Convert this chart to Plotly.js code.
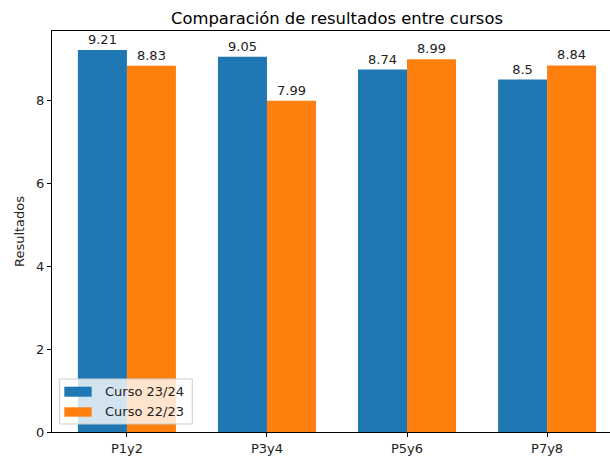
<!DOCTYPE html>
<html>
<head>
<meta charset="utf-8">
<script src="https://cdn.plot.ly/plotly-3.0.1.min.js"></script>
<style>
html,body{margin:0;padding:0;overflow:hidden;background:#fff;}
#chart{width:624px;height:459px;}
</style>
</head>
<body>
<div id="chart"></div>
<script>
const categories = ["P1y2", "P3y4", "P5y6", "P7y8"];
const curso2324 = [9.21, 9.05, 8.74, 8.5];
const curso2223 = [8.83, 7.99, 8.99, 8.84];
const seriesNames = ["Curso 23/24", "Curso 22/23"];
const seriesColors = ["#1f77b4", "#ff7f0e"];
const yTicks = [0, 2, 4, 6, 8];

const font = "DejaVu Sans, sans-serif";
const makeTrace = (vals, i) => ({
  type: "bar", x: categories, y: vals, name: seriesNames[i],
  marker: {color: seriesColors[i]}, text: vals.map(String),
  textposition: "outside", cliponaxis: false, constraintext: "none",
  textfont: {family: font, size: 13, color: "#222"}, hoverinfo: "none", showlegend: false
});
const traces = [makeTrace(curso2324, 0), makeTrace(curso2223, 1)];

// custom matplotlib-style legend (paper coordinates)
const legendShapes = [
  {type: "rect", xref: "paper", yref: "paper", x0: 0.0135, x1: 0.2461, y0: 0.0200, y1: 0.1322,
   fillcolor: "rgba(255,255,255,0.8)", line: {color: "#cccccc", width: 1}, layer: "above"},
  {type: "rect", xref: "paper", yref: "paper", x0: 0.0216, x1: 0.0696, y0: 0.088, y1: 0.113,
   fillcolor: seriesColors[0], line: {width: 0}, layer: "above"},
  {type: "rect", xref: "paper", yref: "paper", x0: 0.0216, x1: 0.0696, y0: 0.0382, y1: 0.0616,
   fillcolor: seriesColors[1], line: {width: 0}, layer: "above"}
];
const legendTexts = [
  {xref: "paper", yref: "paper", x: 0.0895, y: 0.1005, xanchor: "left", yanchor: "middle",
   text: seriesNames[0], showarrow: false, font: {family: font, size: 13, color: "#222"}},
  {xref: "paper", yref: "paper", x: 0.0895, y: 0.0499, xanchor: "left", yanchor: "middle",
   text: seriesNames[1], showarrow: false, font: {family: font, size: 13, color: "#222"}}
];

const layout = {
  width: 624, height: 459,
  margin: {l: 52, r: 2, t: 31, b: 27},
  paper_bgcolor: "#fff", plot_bgcolor: "#fff",
  font: {family: font, size: 13, color: "#222"},
  title: {text: "Comparación de resultados entre cursos", font: {family: font, size: 16.4, color: "#000"},
          x: 0.5, xref: "paper", xanchor: "center", y: 1, yref: "paper", yanchor: "bottom", pad: {b: 7}},
  barmode: "group", bargap: 0.3, bargroupgap: 0,
  showlegend: false,
  shapes: legendShapes,
  annotations: legendTexts,
  xaxis: {type: "category", range: [-0.535, 3.535], showgrid: false, zeroline: false,
          showline: true, linecolor: "#000", linewidth: 1, mirror: true,
          ticks: "outside", ticklen: 4, tickcolor: "#000", tickfont: {family: font, size: 13, color: "#222"}},
  yaxis: {range: [0, 9.67], tickvals: yTicks, ticktext: yTicks.map(String), showgrid: false, zeroline: false,
          showline: true, linecolor: "#000", linewidth: 1, mirror: true,
          ticks: "outside", ticklen: 4, tickcolor: "#000", tickfont: {family: font, size: 13, color: "#222"},
          title: {text: "Resultados", font: {family: font, size: 13, color: "#222"}, standoff: 8}}
};

Plotly.newPlot("chart", traces, layout, {displayModeBar: false, staticPlot: true});
</script>
</body>
</html>
